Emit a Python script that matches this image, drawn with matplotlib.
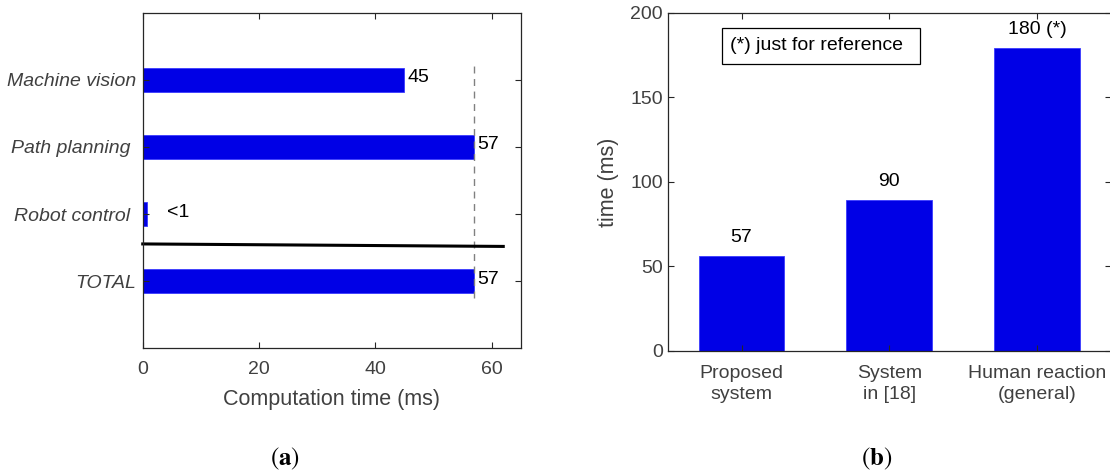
import matplotlib
matplotlib.use('Agg')
import matplotlib.pyplot as plt
from matplotlib.patches import Rectangle
import numpy as np

# panel (a) data
tasks = ['Machine vision', 'Path planning ', 'Robot control ', 'TOTAL']
task_ms = [45, 57, 0.8, 57]
task_lbl = ['45', '57', '<1', '57']
lbl_pad = [0.6, 0.6, 3.3, 0.6]

# panel (b) data
systems = ['Proposed\nsystem', 'System\nin [18]', 'Human reaction\n(general)']
sys_ms = [56, 89, 179]
sys_lbl = ['57', '90', '180 (*)']

plt.rcParams['font.family'] = ['Liberation Sans', 'DejaVu Sans']
plt.rcParams['mathtext.fontset'] = 'stix'
blue = '#0000e6'
grey = '#404040'
fs = 14
lfs = 15.5

fig = plt.figure(figsize=(11.1, 4.75), dpi=100)

def style(ax):
    ax.tick_params(direction='in', length=4, width=0.8, colors='#262626',
                   labelcolor=grey, labelsize=fs, top=True, right=True)
    for s in ax.spines.values():
        s.set_linewidth(0.9)
        s.set_color('#262626')

# ---- (a)
ax1 = fig.add_axes([0.1286, 0.2667, 0.3405, 0.7066])
ypos = np.arange(len(tasks), 0, -1)
ax1.barh(ypos, task_ms, height=0.35, color=blue, edgecolor='#3a3aff', linewidth=0.6)
for y, v, t, p in zip(ypos, task_ms, task_lbl, lbl_pad):
    ax1.text(v + p, y + 0.03, t, va='center', ha='left', fontsize=fs, color='black')
ax1.plot([57, 57], [0.75, 4.25], ls=(0, (5, 4)), color='#808080', lw=1)
ax1.plot([0, 62], [1.555, 1.518], color='black', lw=2.2, clip_on=False)
ax1.set_xlim(0, 65)
ax1.set_ylim(0, 5)
ax1.set_xticks([0, 20, 40, 60])
ax1.set_yticks(ypos)
ax1.set_yticklabels(tasks, style='italic')
ax1.set_xlabel('Computation time (ms)', fontsize=lfs, color=grey, labelpad=8)
style(ax1)
ax1.tick_params(axis='y', pad=5)
ax1.tick_params(axis='x', pad=9)

# ---- (b)
ax2 = fig.add_axes([0.6015, 0.2611, 0.3994, 0.7122])
xpos = np.arange(1, len(systems) + 1)
ax2.bar(xpos, sys_ms, width=0.58, color=blue, edgecolor='#3a3aff', linewidth=0.6)
for x, v, t in zip(xpos, sys_ms, sys_lbl):
    ax2.text(x, v + 11, t, ha='center', va='center', fontsize=fs, color='black')
ax2.add_patch(Rectangle((0.1225, 0.8484), 0.4465, 0.1064, transform=ax2.transAxes,
                        fc='white', ec='black', lw=0.9, zorder=3))
ax2.text(0.14, 0.9016, '(*) just for reference', transform=ax2.transAxes,
         fontsize=fs, va='center', ha='left', zorder=4)
ax2.set_xlim(0.5, 3.5)
ax2.set_ylim(0, 200)
ax2.set_xticks(xpos)
ax2.set_xticklabels(systems, linespacing=1.35)
ax2.set_yticks([0, 50, 100, 150, 200])
ax2.set_ylabel('time (ms)', fontsize=lfs, color=grey, labelpad=8)
style(ax2)
ax2.tick_params(axis='x', pad=10)

fig.text(0.257, 0.033, r'$(\mathbf{a})$', fontsize=18, ha='center', va='center')
fig.text(0.79, 0.033, r'$(\mathbf{b})$', fontsize=18, ha='center', va='center')

fig.savefig('out.png', dpi=100)
